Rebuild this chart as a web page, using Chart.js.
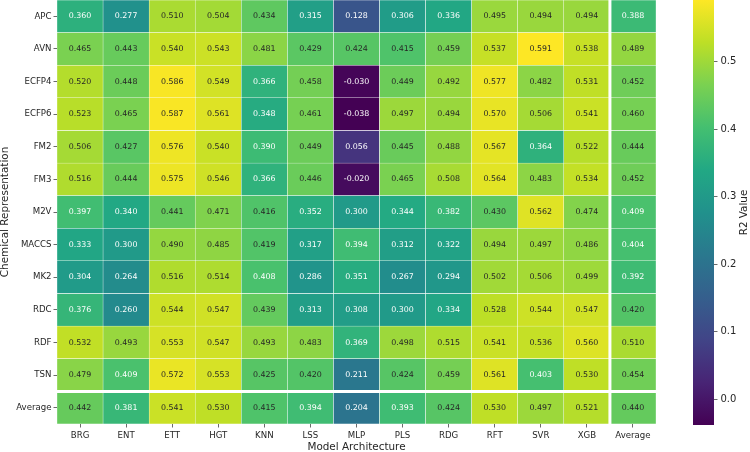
<!DOCTYPE html>
<html>
<head>
<meta charset="utf-8">
<script src="https://cdn.jsdelivr.net/npm/chart.js@4/dist/chart.umd.min.js"></script>
<style>
  body { margin: 0; background: #fff; }
  #wrap { position: relative; width: 750px; height: 452px; }
  canvas { position: absolute; left: 0; top: 0; }
</style>
</head>
<body>
<div id="wrap">
  <canvas id="heatmap" width="750" height="452"></canvas>
  <canvas id="colorbar" width="750" height="452"></canvas>
</div>
<script>
// * Data
const rowLabels = ["APC", "AVN", "ECFP4", "ECFP6", "FM2", "FM3", "M2V", "MACCS", "MK2", "RDC", "RDF", "TSN", "Average"];
const colLabels = ["BRG", "ENT", "ETT", "HGT", "KNN", "LSS", "MLP", "PLS", "RDG", "RFT", "SVR", "XGB", "Average"];

const apc = [0.360, 0.277, 0.510, 0.504, 0.434, 0.315, 0.128, 0.306, 0.336, 0.495, 0.494, 0.494, 0.388];
const avn = [0.465, 0.443, 0.540, 0.543, 0.481, 0.429, 0.424, 0.415, 0.459, 0.537, 0.591, 0.538, 0.489];
const ecfp4 = [0.520, 0.448, 0.586, 0.549, 0.366, 0.458, -0.030, 0.449, 0.492, 0.577, 0.482, 0.531, 0.452];
const ecfp6 = [0.523, 0.465, 0.587, 0.561, 0.348, 0.461, -0.038, 0.497, 0.494, 0.570, 0.506, 0.541, 0.460];
const fm2 = [0.506, 0.427, 0.576, 0.540, 0.390, 0.449, 0.056, 0.445, 0.488, 0.567, 0.364, 0.522, 0.444];
const fm3 = [0.516, 0.444, 0.575, 0.546, 0.366, 0.446, -0.020, 0.465, 0.508, 0.564, 0.483, 0.534, 0.452];
const m2v = [0.397, 0.340, 0.441, 0.471, 0.416, 0.352, 0.300, 0.344, 0.382, 0.430, 0.562, 0.474, 0.409];
const maccs = [0.333, 0.300, 0.490, 0.485, 0.419, 0.317, 0.394, 0.312, 0.322, 0.494, 0.497, 0.486, 0.404];
const mk2 = [0.304, 0.264, 0.516, 0.514, 0.408, 0.286, 0.351, 0.267, 0.294, 0.502, 0.506, 0.499, 0.392];
const rdc = [0.376, 0.260, 0.544, 0.547, 0.439, 0.313, 0.308, 0.300, 0.334, 0.528, 0.544, 0.547, 0.420];
const rdf = [0.532, 0.493, 0.553, 0.547, 0.493, 0.483, 0.369, 0.498, 0.515, 0.541, 0.536, 0.560, 0.510];
const tsn = [0.479, 0.409, 0.572, 0.553, 0.425, 0.420, 0.211, 0.424, 0.459, 0.561, 0.403, 0.530, 0.454];
const average = [0.442, 0.381, 0.541, 0.530, 0.415, 0.394, 0.204, 0.393, 0.424, 0.530, 0.497, 0.521, 0.440];

const rows = [apc, avn, ecfp4, ecfp6, fm2, fm3, m2v, maccs, mk2, rdc, rdf, tsn, average];
const colorbarTicks = [0.0, 0.1, 0.2, 0.3, 0.4, 0.5];

// * Colormap
const viridis = ["#440154", "#482475", "#414487", "#355f8d", "#2a788e", "#21918c",
  "#22a884", "#44bf70", "#7ad151", "#bddf26", "#fde725"];

const allValues = rows.flat();
const vmin = Math.min(...allValues);
const vmax = Math.max(...allValues);

function hexToRgb(hex) {
  return [1, 3, 5].map((i) => parseInt(hex.slice(i, i + 2), 16));
}

function colorFor(v) {
  let t = (v - vmin) / (vmax - vmin);
  t = Math.max(0, Math.min(1, t)) * (viridis.length - 1);
  const i = Math.min(Math.floor(t), viridis.length - 2);
  const f = t - i;
  const a = hexToRgb(viridis[i]);
  const b = hexToRgb(viridis[i + 1]);
  return a.map((c, k) => Math.round(c + (b[k] - c) * f));
}

function rgbString(rgb) {
  return "rgb(" + rgb.join(",") + ")";
}

function luminance(rgb) {
  const lin = rgb.map((c) => {
    c = c / 255;
    return c <= 0.03928 ? c / 12.92 : Math.pow((c + 0.055) / 1.055, 2.4);
  });
  return 0.2126 * lin[0] + 0.7152 * lin[1] + 0.0722 * lin[2];
}

// * Build cells
const cells = [];
rows.forEach((row, r) => {
  row.forEach((v, c) => {
    cells.push({ x: c, y: [r - 0.5, r + 0.5], v: v });
  });
});

const FONT = "'DejaVu Sans', sans-serif";
const TICK_COLOR = "#262626";

function noPadding(scale) {
  scale.paddingLeft = 0;
  scale.paddingRight = 0;
  scale.paddingTop = 0;
  scale.paddingBottom = 0;
}

// * Plugins
const separatorPlugin = {
  id: "separators",
  afterDatasetsDraw(chart) {
    const { ctx, chartArea, scales } = chart;
    const xs = scales.x.getPixelForValue(colLabels.length - 1.5);
    const ys = scales.y.getPixelForValue(rowLabels.length - 1.5);
    ctx.save();
    ctx.strokeStyle = "#ffffff";
    ctx.lineWidth = 3;
    ctx.beginPath();
    ctx.moveTo(xs, chartArea.top);
    ctx.lineTo(xs, chartArea.bottom);
    ctx.moveTo(chartArea.left, ys);
    ctx.lineTo(chartArea.right, ys);
    ctx.stroke();
    ctx.restore();
  },
};

const annotationPlugin = {
  id: "annotations",
  afterDatasetsDraw(chart) {
    const { ctx } = chart;
    const meta = chart.getDatasetMeta(0);
    ctx.save();
    ctx.font = "7.9px " + FONT;
    ctx.textAlign = "center";
    ctx.textBaseline = "middle";
    meta.data.forEach((el, i) => {
      const v = cells[i].v;
      const p = el.getCenterPoint();
      ctx.fillStyle = luminance(colorFor(v)) > 0.408 ? "#262626" : "#ffffff";
      ctx.fillText(v.toFixed(3), p.x, p.y);
    });
    ctx.restore();
  },
};

// colorbar label reads bottom to top, like matplotlib
const colorbarLabelPlugin = {
  id: "colorbarLabel",
  afterDraw(chart) {
    const { ctx, chartArea } = chart;
    ctx.save();
    ctx.translate(chart.width - 6, (chartArea.top + chartArea.bottom) / 2);
    ctx.rotate(-Math.PI / 2);
    ctx.font = "10.4px " + FONT;
    ctx.fillStyle = TICK_COLOR;
    ctx.textAlign = "center";
    ctx.textBaseline = "middle";
    ctx.fillText("R2 Value", 0, 0);
    ctx.restore();
  },
};

// * Heatmap
function createHeatmap() {
  const canvas = document.getElementById("heatmap").getContext("2d");

  new Chart(canvas, {
    type: "bar",
    data: {
      datasets: [
        {
          data: cells,
          backgroundColor: cells.map((c) => rgbString(colorFor(c.v))),
          borderColor: "#ffffff",
          borderWidth: 0.5,
          borderSkipped: false,
          barPercentage: 1,
          categoryPercentage: 1,
        },
      ],
    },
    options: {
      responsive: false,
      animation: false,
      layout: { padding: { top: 0, right: 94, bottom: 0, left: 0 } },
      plugins: { legend: { display: false }, tooltip: { enabled: false } },
      scales: {
        x: {
          type: "linear",
          offset: false,
          min: -0.5,
          max: colLabels.length - 0.5,
          afterBuildTicks: (scale) => {
            scale.ticks = colLabels.map((_, i) => ({ value: i }));
          },
          afterFit: (scale) => {
            scale.height = 28;
            noPadding(scale);
          },
          ticks: {
            autoSkip: false,
            maxRotation: 0,
            padding: 3.5,
            color: TICK_COLOR,
            font: { family: FONT, size: 8.6 },
            callback: (value) => colLabels[value],
          },
          grid: { offset: false, drawOnChartArea: false, tickLength: 3.5, color: "#444", lineWidth: 0.8 },
          border: { display: false },
          title: {
            display: true,
            text: "Model Architecture",
            color: TICK_COLOR,
            padding: { top: 0, bottom: -2 },
            font: { family: FONT, size: 10.4 },
          },
        },
        y: {
          type: "linear",
          reverse: true,
          min: -0.5,
          max: rowLabels.length - 0.5,
          afterBuildTicks: (scale) => {
            scale.ticks = rowLabels.map((_, i) => ({ value: i }));
          },
          afterFit: (scale) => {
            scale.width = 57;
            noPadding(scale);
          },
          ticks: {
            autoSkip: false,
            padding: 2,
            color: TICK_COLOR,
            font: { family: FONT, size: 8.6 },
            callback: (value) => rowLabels[value],
          },
          grid: { drawOnChartArea: false, tickLength: 3.5, color: "#444", lineWidth: 0.8 },
          border: { display: false },
          title: {
            display: true,
            text: "Chemical Representation",
            color: TICK_COLOR,
            padding: { top: -1, bottom: 0 },
            font: { family: FONT, size: 10.4 },
          },
        },
      },
    },
    plugins: [separatorPlugin, annotationPlugin],
  });
}

// * Colorbar
function createColorbar() {
  const canvas = document.getElementById("colorbar").getContext("2d");

  new Chart(canvas, {
    type: "bar",
    data: {
      labels: [""],
      datasets: [
        {
          data: [[vmin, vmax]],
          backgroundColor: (ctx) => {
            const chart = ctx.chart;
            if (!chart.chartArea) return null;
            const y = chart.scales.y;
            const gradient = chart.ctx.createLinearGradient(0, y.getPixelForValue(vmin), 0, y.getPixelForValue(vmax));
            viridis.forEach((c, i) => gradient.addColorStop(i / (viridis.length - 1), c));
            return gradient;
          },
          borderWidth: 0,
          barPercentage: 1,
          categoryPercentage: 1,
        },
      ],
    },
    options: {
      responsive: false,
      animation: false,
      layout: { padding: { top: 0, right: 0, bottom: 27, left: 693 } },
      plugins: { legend: { display: false }, tooltip: { enabled: false } },
      scales: {
        x: {
          display: false,
          afterFit: noPadding,
        },
        y: {
          position: "right",
          min: vmin,
          max: vmax,
          afterBuildTicks: (scale) => {
            scale.ticks = colorbarTicks.map((v) => ({ value: v }));
          },
          afterFit: (scale) => {
            scale.width = 36;
            noPadding(scale);
          },
          ticks: {
            padding: 3,
            color: TICK_COLOR,
            font: { family: FONT, size: 10 },
            callback: (value) => value.toFixed(1),
          },
          grid: { drawOnChartArea: false, tickLength: 3.5, color: "#444", lineWidth: 0.8 },
          border: { display: false },
        },
      },
    },
    plugins: [colorbarLabelPlugin],
  });
}

// * Onload
createHeatmap();
createColorbar();
</script>
</body>
</html>
